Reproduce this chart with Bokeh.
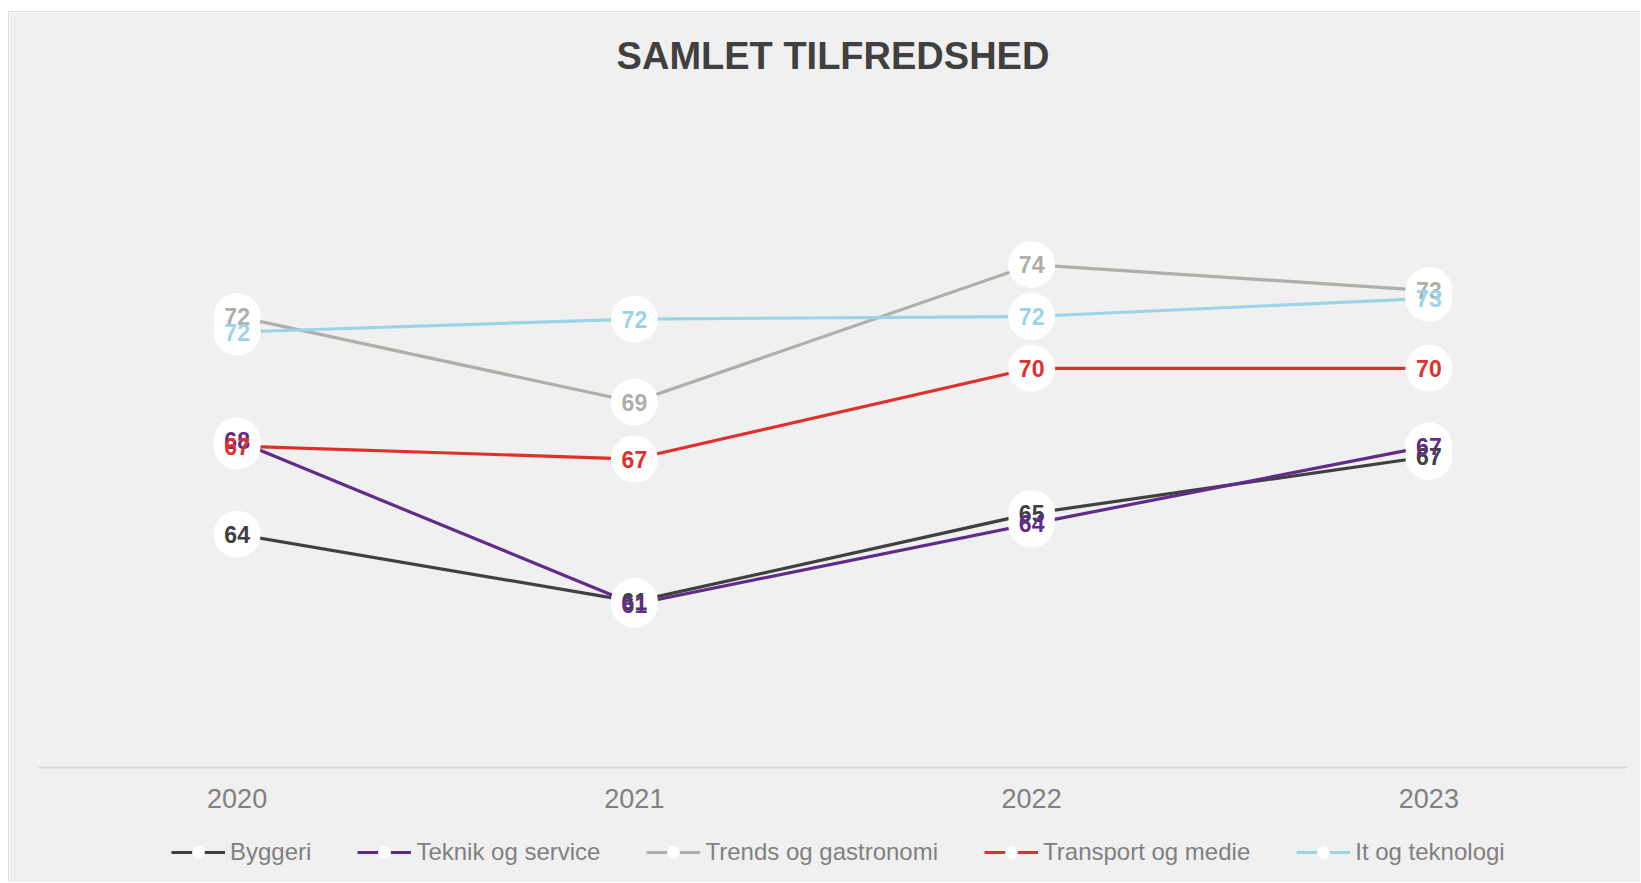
from bokeh.plotting import figure
from bokeh.models import ColumnDataSource, Range1d, FactorRange, Legend, LegendItem, Label
from bokeh.core.properties import value
from bokeh.embed import file_html
from bokeh.resources import INLINE

years = ["2020", "2021", "2022", "2023"]
series_names = ["Byggeri", "Teknik og service", "Trends og gastronomi", "Transport og medie", "It og teknologi"]
byggeri = [64.0, 61.4, 64.8, 67.0]
teknik = [67.6, 61.3, 64.4, 67.4]
trends = [72.4, 69.1, 74.4, 73.4]
transport = [67.4, 66.9, 70.4, 70.4]
it_tek = [71.8, 72.3, 72.4, 73.1]
colors = ["#404040", "#612b8a", "#adafa8", "#e0302b", "#9bd4e8"]
all_series = [byggeri, teknik, trends, transport, it_tek]

FONT = "Liberation Sans"

# axis from 55 to 80 occupies 648px; extra room above/below holds title and legend
Y_MIN, Y_MAX = 55, 80
PX = 648 / (Y_MAX - Y_MIN)
y_start = Y_MIN - 116 / PX
y_end = Y_MAX + 107 / PX

p = figure(
    x_range=FactorRange(*years), y_range=Range1d(y_start, y_end),
    width=1632, height=871, output_backend="svg", toolbar_location=None,
    min_border_left=29, min_border_right=14, min_border_top=0, min_border_bottom=0,
)
p.styles = {"margin-left": "8px", "margin-top": "11px",
            "border-left": "1px solid #dddddd", "border-top": "1px solid #dddddd"}
p.background_fill_color = "#f0f0f0"
p.border_fill_color = "#f0f0f0"
p.outline_line_color = None
p.xgrid.visible = False
p.ygrid.visible = False
p.yaxis.visible = False
p.xaxis.fixed_location = Y_MIN
p.xaxis.axis_line_color = "#d9d9d9"
p.xaxis.axis_line_width = 2
p.xaxis.major_tick_line_color = None
p.xaxis.minor_tick_line_color = None
p.xaxis.major_tick_out = 0
p.xaxis.major_tick_in = 0
p.xaxis.major_label_standoff = 21
p.xaxis.major_label_text_font = FONT
p.xaxis.major_label_text_font_size = "27px"
p.xaxis.major_label_text_color = "#808080"

line_rs = []
for vals, col in zip(all_series, colors):
    src = ColumnDataSource(dict(x=years, y=vals))
    line_rs.append(p.line("x", "y", source=src, line_color=col, line_width=3.2))

circ_rs = []
for vals, col in zip(all_series, colors):
    src = ColumnDataSource(dict(x=years, y=vals))
    circ_rs.append(p.scatter("x", "y", source=src, marker="circle", size=47,
                             fill_color="white", line_color=None))

for vals, col in zip(all_series, colors):
    src = ColumnDataSource(dict(x=years, y=vals, t=[f"{v:.0f}" for v in vals]))
    p.text("x", "y", text="t", source=src, text_color=col, text_font=value(FONT),
           text_font_style="bold", text_font_size="23px", text_align="center",
           text_baseline="middle")

items = [LegendItem(label=n, renderers=[lr, cr]) for n, lr, cr in zip(series_names, line_rs, circ_rs)]
legend = Legend(items=items, orientation="horizontal", location=(133, 15),
                glyph_width=54, glyph_height=32, label_standoff=5, spacing=46,
                padding=0, margin=0, border_line_color=None, background_fill_alpha=0,
                label_text_font=FONT, label_text_font_size="24px", label_text_color="#808080")
p.add_layout(legend, "center")

title = Label(x=2.0, y=y_end - 43 / PX, text="SAMLET TILFREDSHED",
              text_font=FONT, text_font_style="bold", text_font_size="38px",
              text_color="#404040", text_align="center", text_baseline="middle")
p.add_layout(title)

open("out.html", "w").write(file_html(p, INLINE))
